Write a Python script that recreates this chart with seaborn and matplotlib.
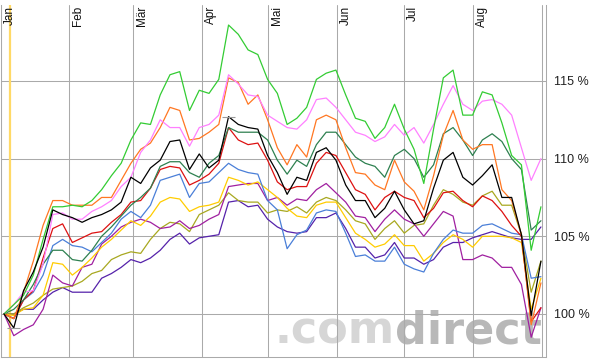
import numpy as np
import pandas as pd
import matplotlib
matplotlib.use("Agg")
import matplotlib.pyplot as plt
import matplotlib.transforms as mtransforms
import seaborn as sns

### DATA ###
#! trading day index, one value every 3 days
days = np.arange(0, 166, 3)

gruen = [100.0, 100.6, 101.2, 102.5, 104.8, 106.9, 106.9, 107.0, 106.9, 107.3,
         108.0, 108.9, 109.7, 111.2, 112.3, 112.2, 114.1, 115.4, 115.6, 113.1,
         114.4, 114.2, 115.1, 118.6, 118.0, 117.0, 116.7, 115.1, 114.2, 112.2,
         112.6, 113.3, 115.1, 115.5, 115.7, 114.1, 112.6, 112.4, 111.3, 112.0,
         113.5, 111.9, 110.6, 108.4, 111.9, 115.2, 115.7, 112.8, 112.8, 114.3,
         114.1, 112.3, 110.2, 109.6, 104.1, 106.9]
rosa = [100.0, 100.6, 101.4, 101.5, 103.2, 106.4, 106.5, 106.1, 106.1, 106.6,
        106.9, 107.3, 108.2, 108.8, 110.4, 111.2, 112.5, 112.0, 112.0, 110.8,
        112.0, 112.2, 112.8, 115.4, 114.8, 114.1, 114.0, 112.8, 112.4, 112.0,
        111.9, 112.5, 113.8, 113.9, 113.3, 112.5, 111.7, 111.5, 111.1, 111.4,
        112.2, 111.5, 112.0, 111.0, 112.2, 113.5, 114.7, 113.5, 113.1, 113.7,
        113.8, 113.5, 112.8, 110.7, 108.6, 110.0]
orange = [100.0, 99.7, 101.4, 103.4, 105.7, 107.3, 107.3, 107.0, 107.0, 107.0,
          107.5, 107.5, 108.6, 109.7, 110.6, 111.0, 112.0, 113.3, 113.1, 111.2,
          111.3, 111.7, 112.2, 115.2, 114.9, 113.5, 114.1, 112.5, 110.7, 109.6,
          110.9, 110.1, 112.5, 112.8, 112.5, 110.7, 109.1, 109.0, 108.3, 108.0,
          109.9, 108.5, 107.9, 106.7, 108.9, 111.5, 113.1, 111.2, 110.6, 110.9,
          110.9, 108.0, 107.3, 105.1, 99.3, 102.0]
dunkelgruen = [100.0, 100.3, 100.9, 101.9, 103.2, 104.1, 104.1, 103.5, 103.4, 104.1,
               105.0, 105.6, 106.3, 107.0, 107.5, 108.1, 109.5, 109.8, 109.8, 109.1,
               108.8, 109.7, 110.2, 112.0, 111.7, 111.7, 111.7, 111.2, 109.9, 109.0,
               109.9, 109.5, 110.9, 111.7, 111.7, 110.9, 110.1, 109.7, 109.5, 108.8,
               110.2, 110.6, 110.0, 108.8, 109.6, 111.6, 112.0, 111.2, 110.2, 111.2,
               111.6, 111.1, 110.0, 109.3, 105.4, 106.0]
schwarz = [100.0, 99.1, 101.5, 102.7, 104.3, 106.7, 106.4, 106.2, 105.9, 106.2,
           106.4, 106.7, 107.2, 108.8, 108.4, 109.4, 109.9, 111.1, 111.2, 109.3,
           110.3, 109.4, 109.9, 112.7, 112.2, 112.0, 111.9, 110.2, 109.1, 107.7,
           108.8, 108.6, 110.4, 110.7, 109.9, 108.3, 107.3, 107.3, 106.2, 106.8,
           107.9, 106.7, 105.8, 106.0, 108.1, 109.9, 110.4, 108.8, 108.3, 108.9,
           109.6, 107.5, 107.5, 105.1, 99.9, 103.4]
rot = [100.0, 99.7, 100.9, 101.5, 103.6, 105.5, 105.8, 104.6, 104.9, 105.2,
       105.3, 105.9, 106.4, 107.2, 107.3, 108.1, 109.3, 109.5, 109.4, 108.3,
       108.6, 109.0, 109.7, 112.0, 111.2, 110.9, 111.0, 109.9, 108.5, 108.0,
       108.2, 108.2, 109.7, 110.4, 110.2, 109.1, 108.0, 107.7, 106.7, 107.5,
       107.9, 107.5, 107.3, 106.2, 106.8, 107.8, 107.9, 107.3, 106.9, 107.6,
       107.3, 106.6, 105.7, 105.0, 99.5, 100.4]
blau = [100.0, 99.7, 100.9, 101.4, 102.5, 104.4, 104.8, 104.4, 104.3, 104.0,
        104.6, 105.2, 106.1, 106.6, 106.2, 107.0, 108.6, 108.8, 109.0, 107.5,
        108.4, 108.5, 109.1, 109.7, 109.3, 109.1, 109.0, 107.3, 106.7, 104.2,
        105.1, 105.4, 106.5, 106.7, 106.6, 105.2, 103.7, 103.8, 103.4, 103.4,
        104.3, 103.2, 102.9, 102.7, 103.9, 104.8, 105.4, 105.2, 105.2, 105.7,
        105.8, 105.5, 105.2, 105.1, 102.3, 102.4]
gelb = [100.0, 99.9, 100.3, 100.4, 101.2, 103.3, 103.2, 102.5, 103.0, 103.6,
        104.3, 104.8, 105.4, 106.0, 105.7, 106.3, 107.2, 107.5, 107.4, 106.6,
        106.9, 107.0, 107.2, 108.8, 108.6, 108.3, 108.5, 108.0, 107.5, 106.8,
        106.3, 106.2, 107.0, 107.2, 107.2, 106.2, 105.2, 104.8, 104.3, 104.5,
        105.1, 104.4, 104.4, 103.4, 103.9, 104.6, 105.1, 104.8, 104.3, 105.0,
        105.0, 105.0, 104.9, 104.6, 100.3, 102.3]
lila = [100.0, 98.6, 99.0, 99.3, 100.3, 102.5, 102.0, 101.8, 103.0, 103.2,
        104.5, 105.0, 105.6, 105.9, 106.1, 105.9, 105.5, 105.6, 106.0, 105.5,
        105.7, 106.1, 106.4, 108.2, 108.3, 108.4, 108.4, 107.3, 107.5, 107.0,
        107.4, 107.3, 108.0, 108.4, 107.8, 107.2, 106.3, 106.2, 105.3, 106.1,
        106.7, 106.1, 105.8, 105.0, 105.8, 106.6, 106.3, 103.5, 103.5, 103.8,
        103.6, 103.0, 103.0, 101.9, 98.5, 100.4]
oliv = [100.0, 100.0, 100.4, 100.7, 101.2, 101.6, 101.7, 101.8, 102.1, 102.6,
        102.8, 103.5, 103.8, 104.0, 103.9, 104.8, 105.5, 105.9, 105.8, 105.3,
        106.4, 106.7, 107.0, 107.8, 107.3, 107.2, 107.2, 106.5, 106.7, 106.6,
        106.9, 106.5, 107.2, 107.5, 107.3, 106.7, 106.0, 105.8, 104.8, 105.5,
        106.0, 105.2, 105.7, 105.8, 107.0, 108.0, 107.7, 107.2, 107.0, 107.6,
        107.9, 107.0, 107.0, 105.1, 101.4, 103.4]
indigo = [100.0, 100.0, 100.3, 100.3, 100.9, 101.4, 101.7, 101.4, 101.4, 101.4,
          102.3, 102.6, 103.0, 103.5, 103.3, 103.6, 104.1, 104.8, 105.2, 104.5,
          104.9, 105.0, 105.1, 107.2, 107.3, 106.9, 107.0, 106.1, 105.6, 105.3,
          105.2, 105.3, 106.2, 106.2, 106.5, 105.5, 104.3, 104.3, 103.6, 103.8,
          104.6, 103.6, 103.6, 103.2, 103.5, 104.3, 104.6, 104.6, 104.9, 105.1,
          105.3, 105.1, 104.9, 104.8, 104.8, 105.6]

month_labels = ["Jan", "Feb", "Mär", "Apr", "Mai", "Jun", "Jul", "Aug", ""]
month_pos = [-1.08, 20.06, 39.6, 60.8, 81.1, 102.3, 122.9, 144.1, 165.4]
ytick_vals = [100, 105, 110, 115]
start_day = 1.8

series = {"indigo": indigo, "oliv": oliv, "lila": lila, "gelb": gelb, "blau": blau,
          "rot": rot, "dunkelgruen": dunkelgruen, "orange": orange, "rosa": rosa,
          "gruen": gruen, "schwarz": schwarz}
colors = {"gruen": "#33cc33", "rosa": "#ff80ff", "orange": "#ff7722",
          "dunkelgruen": "#2e8050", "schwarz": "#000000", "rot": "#dd1111",
          "blau": "#4a7fd8", "gelb": "#ffcc00", "lila": "#a020a0",
          "oliv": "#a8a820", "indigo": "#5522aa"}

df = pd.concat([pd.DataFrame({"day": days, "wert": v, "name": k})
                for k, v in series.items()], ignore_index=True)

sns.set_style("white")
plt.rcParams["font.family"] = ["Liberation Sans", "DejaVu Sans"]

fig = plt.figure(figsize=(5.9, 3.61), dpi=100)
ax = fig.add_axes([0.5 / 590, 4.5 / 361, 545 / 590, 351.5 / 361])

#! watermark
wm1 = ax.text(0.993, 0.01, "direct", transform=ax.transAxes, ha="right", va="bottom",
              fontsize=32, fontweight="bold", color="#b8b8b8", family="DejaVu Sans",
              zorder=0.5)
fig.canvas.draw()
bb = wm1.get_window_extent().transformed(ax.transAxes.inverted())
ax.text(bb.x0, 0.01, ".com", transform=ax.transAxes, ha="right", va="bottom",
        fontsize=32, fontweight="bold", color="#d6d6d6", family="DejaVu Sans",
        zorder=0.5)

ax.axvline(start_day, color="#ffd966", lw=1.6, zorder=1.5)

sns.lineplot(data=df, x="day", y="wert", hue="name", palette=colors,
             hue_order=list(series.keys()), estimator=None, linewidth=0.9,
             legend=False, ax=ax, zorder=2)

#! small max/min marks on black series
imax = int(np.argmax(schwarz)); imin = int(np.argmin(schwarz))
ax.hlines([schwarz[imax], schwarz[imin]], [days[imax] - 2, days[imin] - 2],
          [days[imax] + 2, days[imin] + 2], color="#999999", lw=0.8, zorder=3)

ax.set_xlim(-1.08, 166.4)
ax.set_ylim(97.26, 119.89)
ax.set_xticks(month_pos)
ax.set_xticklabels([])
ax.yaxis.tick_right()
ax.set_yticks(ytick_vals)
ax.set_yticklabels([f"{v} %" for v in ytick_vals])
ax.tick_params(axis="both", length=0)
ax.tick_params(axis="y", pad=6, labelsize=9, labelcolor="#222222")
ax.grid(True, color="#aaaaaa", lw=0.75)
ax.set_axisbelow(True)
ax.set_xlabel("")
ax.set_ylabel("")
for s in ["left", "bottom", "right"]:
    ax.spines[s].set_color("#aaaaaa")
    ax.spines[s].set_linewidth(0.75)
ax.spines["top"].set_visible(False)

trans = mtransforms.blended_transform_factory(ax.transData, ax.transAxes)
for p, lab in zip(month_pos, month_labels):
    ax.text(p + 0.9, 0.998, lab, transform=trans, rotation=90, ha="left", va="top",
            fontsize=8.5, color="#111111")

plt.savefig("out.png", dpi=100)
